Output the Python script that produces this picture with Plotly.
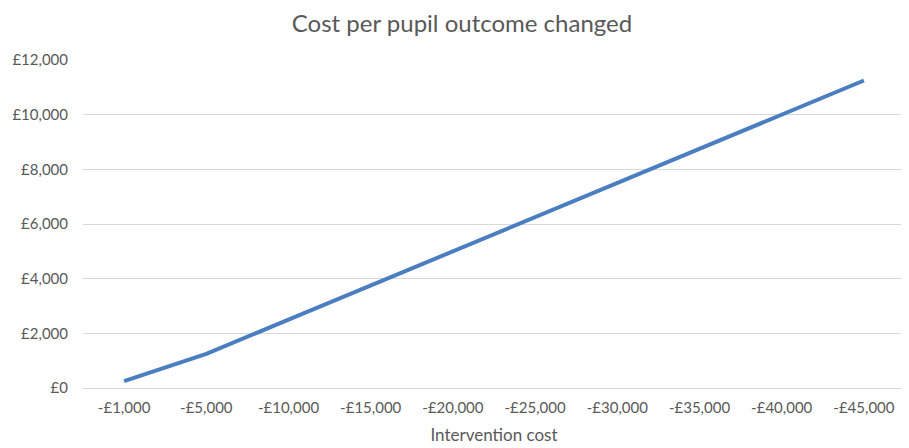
import plotly.graph_objects as go

categories = ["-£1,000", "-£5,000", "-£10,000", "-£15,000", "-£20,000",
              "-£25,000", "-£30,000", "-£35,000", "-£40,000", "-£45,000"]
cost_per_outcome = [250, 1250, 2500, 3750, 5000, 6250, 7500, 8750, 10000, 11250]
y_tick_values = [0, 2000, 4000, 6000, 8000, 10000, 12000]
y_tick_labels = ["£0", "£2,000", "£4,000", "£6,000", "£8,000", "£10,000", "£12,000"]

FONT = "Lato, 'Open Sans', sans-serif"
GREY = "#595959"

fig = go.Figure()
fig.add_trace(go.Scatter(
    x=categories, y=cost_per_outcome, mode="lines",
    line=dict(color="#4A7EC0", width=4),
    showlegend=False,
))

# the page body has an 8px margin, so the figure is 8px smaller than the window
fig.update_layout(
    width=901, height=440,
    margin=dict(l=75, r=4, t=52, b=60, autoexpand=False),
    paper_bgcolor="white", plot_bgcolor="white",
    title=dict(text="Cost per pupil outcome changed", x=454 / 901, xanchor="center",
               xref="container", yref="container", y=1 - 16 / 440, yanchor="middle",
               font=dict(family=FONT, size=24, color=GREY)),
    xaxis=dict(
        type="category", range=[-0.5, len(categories) - 0.5],
        showgrid=False, zeroline=False, showline=False,
        ticks="", ticklabelstandoff=9,
        tickfont=dict(family=FONT, size=15, color=GREY),
        title=dict(text="Intervention cost", font=dict(family=FONT, size=17, color=GREY),
                   standoff=14),
    ),
    yaxis=dict(
        range=[0, 12000], tickvals=y_tick_values, ticktext=y_tick_labels,
        showgrid=True, gridcolor="#D9D9D9", gridwidth=1,
        zeroline=True, zerolinecolor="#D9D9D9", zerolinewidth=1,
        showline=False, ticks="", ticklabelstandoff=14,
        tickfont=dict(family=FONT, size=15, color=GREY),
    ),
)

fig.write_html("out.html")
